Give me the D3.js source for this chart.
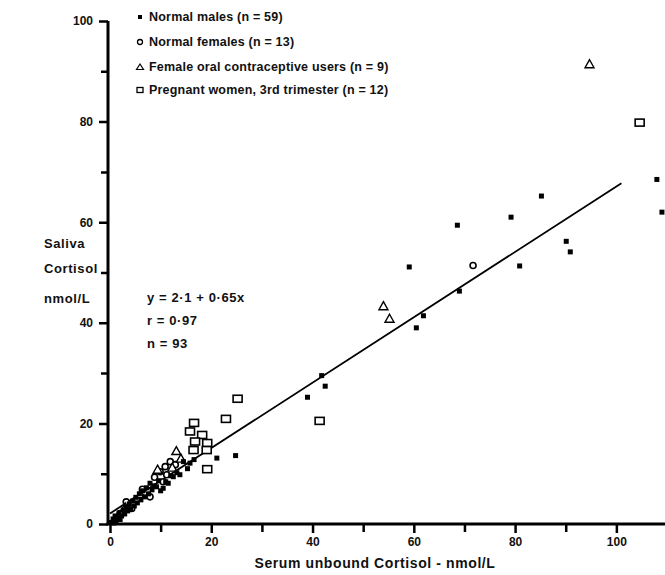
<!DOCTYPE html>
<html>
<head>
<meta charset="utf-8">
<script src="https://cdn.jsdelivr.net/npm/d3@7"></script>
<style>
  body { margin: 0; background: #fff; }
  svg { display: block; font-family: "Liberation Sans", Arial, sans-serif; }
  .lbl { font-size: 12.5px; font-weight: bold; fill: #111; letter-spacing: 0.2px; }
  .big { font-size: 13px; letter-spacing: 0.6px; }
  .tick text { font-size: 12px; font-weight: bold; fill: #111; }
</style>
</head>
<body>
<svg id="chart" width="665" height="575"></svg>
<script>
// Normal males, filled marks [serum unbound, saliva]
const males = [
  [108, 68.5], [109, 62], [85.2, 65.2], [79.2, 61.0], [68.6, 59.4], [59.1, 51.1],
  [80.9, 51.3], [90.1, 56.2], [90.9, 54.1], [61.9, 41.4], [60.5, 39.0], [69.0, 46.3],
  [41.8, 29.5], [42.5, 27.4], [39.0, 25.2], [21.1, 13.1], [24.8, 13.6],
  [0.3, 0.3], [0.6, 1.0], [0.8, 0.2], [1.0, 1.6], [1.2, 0.6], [1.5, 1.2], [1.8, 2.2],
  [2.0, 0.9], [2.3, 1.6], [2.6, 2.8], [2.9, 2.0], [3.2, 3.4], [3.5, 2.6], [3.8, 4.0],
  [4.1, 3.0], [4.5, 4.6], [4.8, 3.6], [5.1, 5.3], [5.4, 4.2], [5.8, 6.0], [6.1, 4.8],
  [6.5, 6.6], [6.8, 5.4], [7.2, 7.2], [7.6, 6.0], [7.9, 8.1], [8.3, 6.8], [8.7, 7.6],
  [9.2, 7.4], [9.6, 8.6], [10.0, 6.6], [10.5, 7.1], [11.0, 8.4], [11.5, 8.1],
  [12.0, 9.6], [12.5, 9.4], [13.2, 10.2], [13.8, 9.8], [14.5, 12.4], [15.3, 11.0],
  [15.8, 12.1], [16.6, 12.8]
];
// Normal females, open circles
const females = [
  [71.7, 51.4], [11.9, 12.4], [10.9, 11.4], [9.9, 10.4], [11.2, 9.8], [10.5, 8.4],
  [6.4, 6.9], [4.3, 3.1], [7.9, 5.4], [2.0, 2.1], [8.8, 9.3], [12.9, 11.8], [3.2, 4.4]
];
// Female oral contraceptive users, triangles
const ocUsers = [
  [94.7, 91.4], [54.0, 43.3], [55.2, 40.8], [14.0, 13.0], [13.1, 14.5],
  [9.4, 10.8], [6.0, 5.9], [3.0, 3.3], [12.3, 11.2]
];
// Pregnant women 3rd trimester, open squares
const pregnant = [
  [104.6, 79.8], [41.4, 20.5], [25.2, 24.9], [22.9, 20.9], [19.2, 10.9], [16.6, 20.1],
  [15.8, 18.4], [18.2, 17.7], [16.8, 16.4], [19.2, 16.1], [19.1, 14.7], [16.5, 14.7]
];

const legendLabels = [
  "Normal males (n = 59)",
  "Normal females (n = 13)",
  "Female oral contraceptive users (n = 9)",
  "Pregnant women, 3rd trimester (n = 12)"
];
const statLines = ["y = 2·1 + 0·65x", "r = 0·97", "n = 93"];
const yTitle = ["Saliva", "Cortisol", "nmol/L"];
const xTitle = "Serum unbound Cortisol - nmol/L";

// regression: y = 2.1 + 0.65x over x 0..101
const fitA = 2.1, fitB = 0.65, fitRange = [0, 101];

const xTicksMajor = [0, 20, 40, 60, 80, 100];
const xTicksMinor = [10, 30, 50, 70, 90];
const yTicksMajor = [0, 20, 40, 60, 80, 100];
const yTicksMinor = [10, 30, 50, 70, 90];

const svg = d3.select("#chart");
const ink = "#000";

const x = d3.scaleLinear().domain([0, 110]).range([110, 667]);
const y = d3.scaleLinear().domain([0, 100]).range([524, 21]);
const spineX = x(0) - 2;

// Spines as paths with a tiny jog (perfectly straight ones did not show up in the render)
svg.append("path")
  .attr("d", `M${spineX},${y(100)}L${spineX + 0.01},${y(0)}`)
  .attr("stroke", ink).attr("stroke-width", 3).attr("fill", "none");
svg.append("path")
  .attr("d", `M${spineX - 1.5},${y(0)}L${x(110)},${y(0) + 0.01}`)
  .attr("stroke", ink).attr("stroke-width", 3).attr("fill", "none");

// Ticks from d3 axes
const xAxisG = svg.append("g").attr("transform", `translate(0,${y(0)})`);
xAxisG.call(d3.axisBottom(x).tickValues(xTicksMajor).tickSize(9).tickSizeOuter(0).tickPadding(4).tickFormat(d3.format("d")));
xAxisG.append("g").call(d3.axisBottom(x).tickValues(xTicksMinor).tickSize(8).tickSizeOuter(0).tickFormat(""));

const yAxisG = svg.append("g").attr("transform", `translate(${spineX},0)`);
yAxisG.call(d3.axisLeft(y).tickValues(yTicksMajor).tickSize(9).tickSizeOuter(0).tickPadding(6).tickFormat(d3.format("d")));
yAxisG.append("g").call(d3.axisLeft(y).tickValues(yTicksMinor).tickSize(7).tickSizeOuter(0).tickFormat(""));

svg.selectAll(".domain").remove();
xAxisG.selectAll(".tick line").attr("x2", 0.01);
yAxisG.selectAll(".tick line").attr("y2", 0.01);
svg.selectAll(".tick line").attr("stroke", ink).attr("stroke-width", 2.5);

// Regression line
svg.append("line")
  .attr("x1", x(fitRange[0])).attr("y1", y(fitA + fitB * fitRange[0]))
  .attr("x2", x(fitRange[1])).attr("y2", y(fitA + fitB * fitRange[1]))
  .attr("stroke", ink).attr("stroke-width", 1.8);

// Markers
const drawMark = {
  male: (g) => g.append("rect").attr("x", -2.5).attr("y", -2.5).attr("width", 5).attr("height", 5)
    .attr("fill", ink),
  female: (g) => g.append("circle").attr("r", 3).attr("fill", "#fff").attr("stroke", ink).attr("stroke-width", 1.6),
  oc: (g) => g.append("path").attr("d", "M0,-4.5L4.5,3.5L-4.5,3.5Z").attr("fill", "#fff")
    .attr("stroke", ink).attr("stroke-width", 1.4),
  preg: (g) => g.append("rect").attr("x", -4.5).attr("y", -3.5).attr("width", 9).attr("height", 7)
    .attr("fill", "#fff").attr("stroke", ink).attr("stroke-width", 1.6)
};

function plotGroup(data, kind) {
  svg.append("g").selectAll("g")
    .data(data)
    .join("g")
      .attr("transform", d => `translate(${x(d[0])},${y(d[1])})`)
      .each(function () { drawMark[kind](d3.select(this)); });
}
plotGroup(pregnant, "preg");
plotGroup(females, "female");
plotGroup(ocUsers, "oc");
plotGroup(males, "male");

// Legend
const kinds = ["male", "female", "oc", "preg"];
const legendY = [17, 42, 67, 90];
const legend = svg.append("g");
kinds.forEach((k, i) => {
  const g = legend.append("g").attr("transform", `translate(140,${legendY[i]})`);
  if (k === "male") {
    g.append("rect").attr("x", -2).attr("y", -2).attr("width", 4).attr("height", 4).attr("fill", ink);
  } else if (k === "female") {
    g.append("circle").attr("r", 2.5).attr("fill", "#fff").attr("stroke", ink).attr("stroke-width", 1.3);
  } else if (k === "oc") {
    g.append("path").attr("d", "M0,-3L3.5,2.5L-3.5,2.5Z").attr("fill", "#fff").attr("stroke", ink).attr("stroke-width", 1.2);
  } else {
    g.append("rect").attr("x", -3).attr("y", -2.5).attr("width", 6).attr("height", 5)
      .attr("fill", "#fff").attr("stroke", ink).attr("stroke-width", 1.3);
  }
  g.append("text").attr("class", "lbl").attr("x", 9).attr("dy", "0.35em").text(legendLabels[i]);
});

// Stats
svg.append("g").selectAll("text")
  .data(statLines)
  .join("text")
    .attr("class", "lbl big")
    .attr("x", 147)
    .attr("y", (d, i) => 297 + i * 23)
    .attr("dy", "0.35em")
    .text(d => d);

// Axis titles
svg.append("g").selectAll("text")
  .data(yTitle)
  .join("text")
    .attr("class", "lbl big")
    .attr("x", 44)
    .attr("y", (d, i) => [243, 268, 298][i])
    .attr("dy", "0.35em")
    .text(d => d);

svg.append("text")
  .attr("class", "lbl big")
  .attr("x", 375).attr("y", 563)
  .attr("text-anchor", "middle")
  .attr("dy", "0.35em")
  .style("font-size", "14px")
  .text(xTitle);
</script>
</body>
</html>
